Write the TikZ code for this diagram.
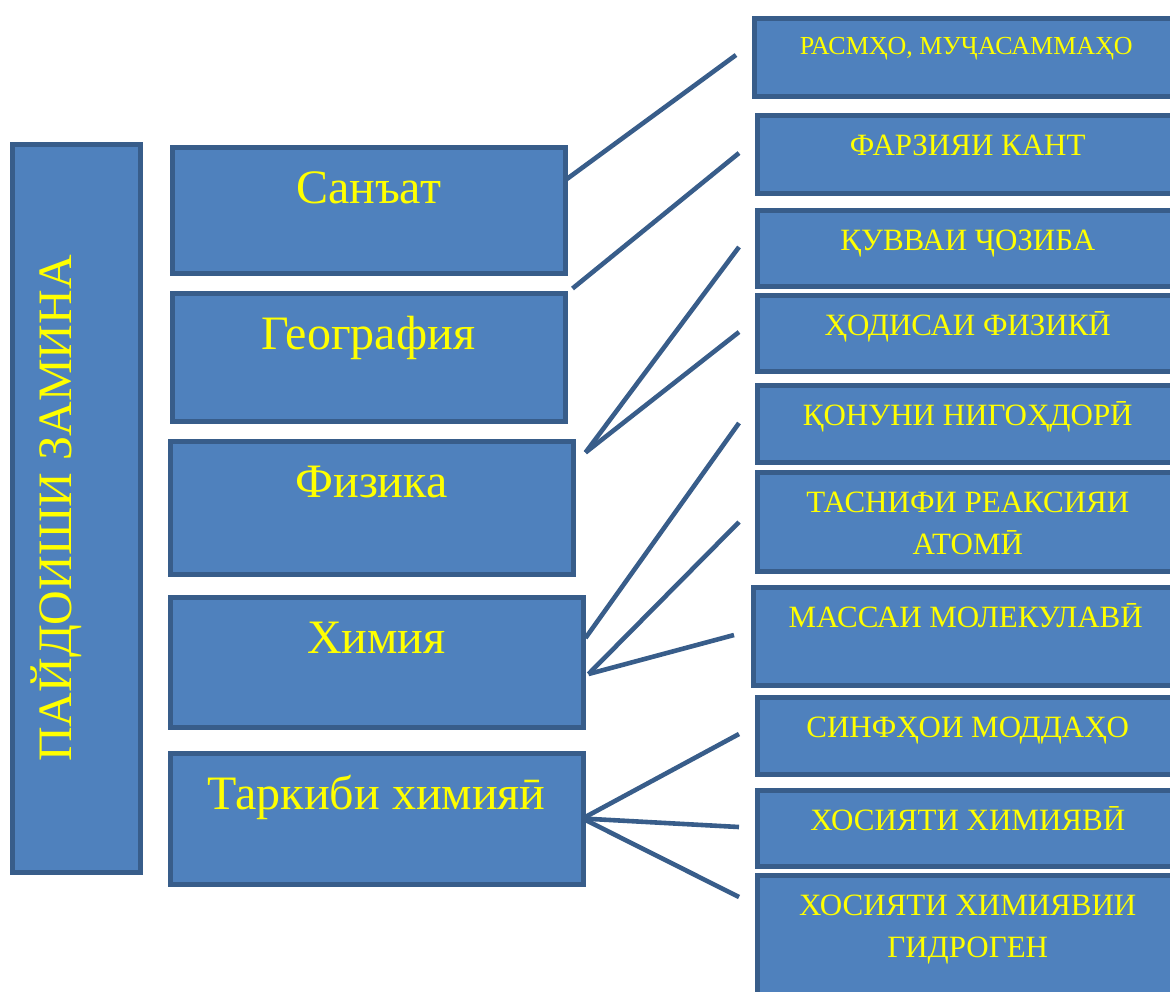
\documentclass[tikz,border=0pt]{standalone}
\usepackage{fontspec}
\setmainfont{Liberation Serif}
\usetikzlibrary{calc}

\definecolor{boxfill}{HTML}{4F81BD}
\definecolor{boxline}{HTML}{385D8A}
\definecolor{txtyellow}{HTML}{FFFF00}

\begin{document}
\begin{tikzpicture}[x=0.5pt, y=-0.5pt,
    box/.style = {draw=boxline, fill=boxfill, line width=2.5pt, inner sep=0pt,
                  anchor=north west, text=txtyellow, align=center},
    lbox/.style = {box, text height=28.25pt, font=\fontsize{24}{28}\selectfont},
    rbox/.style = {box, text height=20.25pt, font=\fontsize{15.5}{21}\selectfont},
    link/.style = {draw=boxline, line width=2.3pt}]
    \clip (0,0) rectangle (1170,991);

    % title
    \node[box, anchor=center, rotate=90, minimum width=364pt, text height=29.25pt,
          text depth=34.75pt, font=\fontsize{24}{28}\selectfont] (zamin) at (76.5,508.5) {ПАЙДОИШИ ЗАМИНА};

    % subjects
    \node[lbox, minimum width=196.5pt, text depth=34.75pt] (sanat) at (169.5,144.5) {Санъат};
    \node[lbox, minimum width=196.5pt, text depth=35.75pt] (geo) at (169.5,290.5) {География};
    \node[lbox, minimum width=201.5pt, text depth=38.25pt] (fiz) at (167.5,438.5) {Физика};
    \node[lbox, minimum width=206.5pt, text depth=36.75pt] (khim) at (167.5,594.5) {Химия};
    \node[lbox, minimum width=206.5pt, text depth=37.25pt] (tark) at (167.5,750.5) {Таркиби химияӣ};

    % topics
    \node[box, minimum width=212.25pt, text height=18.25pt, text depth=20.75pt,
          font=\fontsize{13}{16}\selectfont] (rasm) at (751.5,15.5) {РАСМҲО, МУҶАСАММАҲО};
    \node[rbox, minimum width=210.75pt, text depth=18.75pt] (kant) at (754.5,112.5) {ФАРЗИЯИ КАНТ};
    \node[rbox, minimum width=210.75pt, text depth=17.75pt] (quvva) at (754.5,207.5) {ҚУВВАИ ҶОЗИБА};
    \node[rbox, minimum width=210.75pt, text depth=17.75pt] (hodisa) at (754.5,292.5) {ҲОДИСАИ ФИЗИКӢ};
    \node[rbox, minimum width=210.75pt, text depth=18.25pt] (qonun) at (754.5,382.5) {ҚОНУНИ НИГОҲДОРӢ};
    \node[rbox, minimum width=210.75pt, text height=41.25pt, text depth=8.25pt] (tasnif) at (754.5,469.5) {ТАСНИФИ РЕАКСИЯИ\\АТОМӢ};
    \node[rbox, minimum width=212.75pt, text depth=28.75pt] (massa) at (750.5,584.5) {МАССАИ МОЛЕКУЛАВӢ};
    \node[rbox, minimum width=210.75pt, text depth=18.25pt] (sinf) at (754.5,694.5) {СИНФҲОИ МОДДАҲО};
    \node[rbox, minimum width=210.75pt, text depth=17.75pt] (xos) at (754.5,787.5) {ХОСИЯТИ ХИМИЯВӢ};
    \node[rbox, minimum width=210.75pt, text height=41.25pt, text depth=23.75pt] (gidro) at (754.5,872.5) {ХОСИЯТИ ХИМИЯВИИ\\ГИДРОГЕН};

    % free ends of the links
    \coordinate (e1) at (736,55);
    \coordinate (e2) at (739,153);
    \coordinate (e3) at (739,247);
    \coordinate (e4) at (739,332);
    \coordinate (e5) at (739,423);
    \coordinate (e6) at (739,522);
    \coordinate (e7) at (734,635);
    \coordinate (e8) at (739,734);
    \coordinate (e9) at (739,827);
    \coordinate (e10) at (739,897);

    \draw[link] ($(sanat.east)+(-2,-30)$) -- (e1);
    \draw[link] ($(geo.north east)+(5,-2)$) -- (e2);
    \draw[link] ($(fiz.north east)+(10,14)$) -- (e3);
    \draw[link] ($(fiz.north east)+(10,14)$) -- (e4);
    \draw[link] ($(khim.east)+(0,-24)$) -- (e5);
    \draw[link] ($(khim.east)+(3,12)$) -- (e6);
    \draw[link] ($(khim.east)+(3,12)$) -- (e7);
    \draw[link] ($(tark.east)+(-3,0)$) -- (e8);
    \draw[link] ($(tark.east)+(-3,0)$) -- (e9);
    \draw[link] ($(tark.east)+(-3,0)$) -- (e10);
\end{tikzpicture}
\end{document}
